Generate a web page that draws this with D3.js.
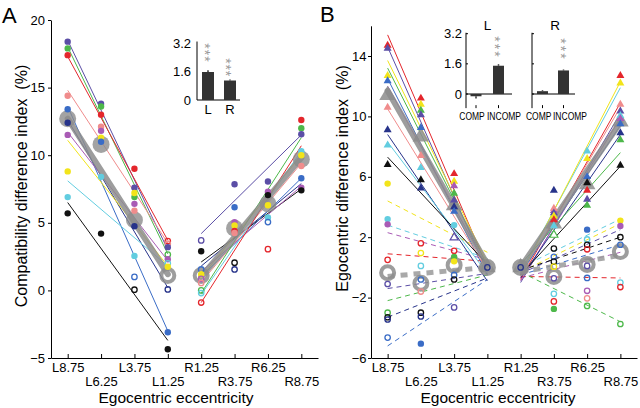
<!DOCTYPE html>
<html><head><meta charset="utf-8">
<script src="https://cdn.jsdelivr.net/npm/d3@7"></script>
<style>
body{margin:0;background:#fff}
svg{display:block}
text{font-family:"Liberation Sans",Arial,sans-serif;fill:#000}
</style>
</head><body>
<svg id="c" width="640" height="408"></svg>
<script>
// ---------- DATA ----------
const categories = ["L8.75","L6.25","L3.75","L1.25","R1.25","R3.75","R6.25","R8.75"];
// subjects: 0 red,1 green,2 purple,3 navy,4 blue,5 cyan,6 yellow,7 pink,8 magenta,9 black
const subjectColors = ["#e4262c","#4db84a","#5b4ea6","#27338a","#3a6cc6","#62cde0","#f2e41a","#f08c8c","#a95bb5","#111111"];

const yTicksA = [20,15,10,5,0,-5];
const yTicksB = [14,10,6,2,-2,-6];

// [subject, position, value, filled]
const aPoints = [
 [2,0,18.4,1],[1,0,17.9,1],[0,0,17.4,1],[7,0,14.4,1],[4,0,13.4,1],[3,0,12.4,1],[8,0,11.5,1],[6,0,8.8,1],[5,0,6.9,1],[9,0,5.7,1],
 [2,1,13.8,1],[1,1,13.6,1],[0,1,13.0,1],[7,1,12.1,1],[8,1,11.8,1],[6,1,11.3,1],[4,1,11.0,1],[5,1,8.4,1],[9,1,4.2,1],
 [0,2,9.0,1],[2,2,7.6,1],[1,2,6.9,1],[6,2,7.2,1],[8,2,6.4,1],[7,2,5.9,1],[3,2,4.75,1],[5,2,2.55,1],[4,2,1.0,0],[9,2,0.05,0],
 [0,3,3.65,0],[7,3,3.45,0],[2,3,3.2,1],[1,3,2.65,0],[8,3,2.3,1],[5,3,2.0,0],[6,3,1.75,1],[3,3,0.07,0],[4,3,-3.1,1],[9,3,-4.35,1],
 [2,4,3.7,0],[9,4,2.9,1],[4,4,1.55,0],[6,4,1.2,1],[8,4,0.85,0],[7,4,0.55,0],[1,4,0.0,0],[5,4,-0.2,0],[0,4,-0.9,0],
 [2,5,7.85,1],[4,5,6.15,1],[8,5,5.05,1],[6,5,4.8,1],[0,5,4.4,1],[7,5,4.25,1],[9,5,2.05,0],[3,5,1.55,0],
 [2,6,8.05,1],[8,6,7.3,1],[9,6,7.05,1],[6,6,6.3,1],[5,6,5.4,1],[4,6,5.05,0],[0,6,3.05,0],
 [0,7,12.6,1],[1,7,12.0,1],[2,7,11.55,1],[5,7,10.3,1],[6,7,10.0,1],[7,7,9.2,1],[4,7,8.3,1],[8,7,7.6,1],[9,7,7.4,1]
];
// [subject, startPos, startVal, endPos, endVal]
const aLines = [
 [2,0,18.5,3,3.0],[1,0,18.0,3,2.7],[0,0,17.3,3,3.7],[7,0,14.8,3,3.5],[4,0,13.6,3,-3.0],[3,0,12.6,3,0.2],
 [8,0,11.7,3,2.2],[6,0,11.1,3,1.8],[5,0,8.1,3,1.8],[9,0,6.5,3,-3.7],
 [2,4,4.2,7,11.5],[9,4,2.1,7,7.5],[3,4,1.8,7,7.9],[4,4,1.0,7,8.3],[6,4,1.0,7,10.0],[7,4,0.6,7,9.4],
 [8,4,1.4,7,7.7],[1,4,-0.2,7,11.3],[5,4,-0.3,7,10.3],[0,4,-0.9,7,10.7]
];
const aMeans = [12.7,10.8,5.2,1.1,1.1,4.6,6.4,9.7];
const aMeanFilled = [1,1,1,0,0,1,1,1];
const aMeanLines = [[0,12.7,3,1.2],[4,1.0,7,9.8]];

const bTriPoints = [
 [0,0,14.7,1],[2,0,14.5,1],[6,0,12.7,1],[4,0,12.35,1],[7,0,10.6,1],[3,0,9.1,1],[5,0,8.1,1],[9,0,6.8,1],
 [0,1,11.2,1],[6,1,10.8,1],[1,1,10.4,1],[2,1,10.1,1],[4,1,9.25,1],[7,1,7.4,1],[5,1,6.6,1],[9,1,5.8,1],[3,1,5.25,1],
 [0,2,6.2,1],[6,2,5.7,1],[8,2,5.4,1],[1,2,4.9,1],[2,2,4.45,1],[3,2,4.0,1],[4,2,3.7,1],[2,2,1.97,0],
 [3,5,5.1,1],[8,5,3.75,1],[7,5,3.9,1],[2,5,3.6,1],[6,5,3.4,1],[0,5,3.15,1],[5,5,2.75,1],[1,5,2.15,0],
 [5,6,7.7,1],[6,6,7.2,1],[4,6,6.0,1],[9,6,5.6,1],[0,6,5.1,1],[2,6,4.5,1],[1,6,4.1,1],
 [0,7,12.7,1],[6,7,12.2,1],[7,7,10.8,1],[2,7,10.35,1],[5,7,10.05,1],[8,7,9.85,1],[4,7,9.5,1],[3,7,8.9,1],[1,7,8.45,1],[9,7,6.75,1]
];
const bCirPoints = [
 [6,0,5.55,1],[5,0,3.2,1],[8,0,2.85,1],[0,0,0.5,0],[2,0,-1.1,0],[1,0,-3.0,0],[9,0,-3.3,0],[3,0,-3.45,0],[4,0,-4.65,0],
 [0,1,1.6,0],[6,1,0.95,0],[5,1,0.1,0],[4,1,-0.8,0],[7,1,-1.6,0],[9,1,-3.0,0],[3,1,-3.25,0],[4,1,-5.05,1],
 [5,2,2.8,1],[0,2,1.1,0],[1,2,0.7,1],[6,2,0.4,1],[4,2,-0.5,0],[9,2,-0.8,0],[2,2,-2.65,0],
 [3,3,0,0],[3,4,0,0],
 [9,5,1.25,0],[4,5,0.7,0],[9,5,0.38,0],[6,5,0.05,0],[2,5,-0.72,0],[5,5,-1.75,0],[0,5,-2.25,0],[1,5,-2.75,1],
 [4,6,2.5,1],[5,6,1.85,0],[9,6,1.5,0],[0,6,1.2,0],[2,6,0.1,0],[4,6,-0.7,0],[8,6,-1.55,0],[7,6,-2.05,0],[1,6,-2.55,0],
 [6,7,3.1,1],[8,7,2.75,1],[9,7,2.0,0],[4,7,1.5,0],[5,7,-1.0,0],[0,7,-1.3,0],[1,7,-3.75,0]
];
const bTriLines = [
 [0,0,15.4,3,0.0],[2,0,14.6,3,-0.3],[6,0,13.7,3,0.3],[1,0,13.2,3,0.1],[4,0,12.5,3,-0.5],[8,0,12.0,3,0.0],
 [7,0,10.5,3,-0.2],[3,0,8.8,3,-0.9],[5,0,8.3,3,-0.4],[9,0,7.3,3,0.2],
 [5,4,-0.3,7,11.9],[6,4,-0.5,7,12.3],[0,4,-0.8,7,10.9],[7,4,-0.6,7,10.6],[2,4,-1.0,7,10.2],[8,4,-0.9,7,9.9],
 [4,4,-0.4,7,9.4],[3,4,-0.7,7,8.8],[1,4,0.2,7,7.6],[9,4,-0.5,7,6.7]
];
const bCirLines = [
 [6,0,4.4,3,1.0],[5,0,2.8,3,0.6],[8,0,2.3,3,0.5],[0,0,0.9,3,0.4],[2,0,-1.4,3,-0.4],[1,0,-2.2,3,-0.5],[3,0,-3.3,3,-0.7],[4,0,-5.2,3,-0.8],
 [5,4,0.0,7,3.2],[6,4,-0.3,7,2.9],[2,4,-0.4,7,2.5],[9,4,-0.2,7,2.0],[4,4,-0.5,7,1.5],[8,4,-0.7,7,1.0],[0,4,-0.6,7,-0.7],[1,4,-0.3,7,-3.6]
];
const bTriMeans = [11.4,8.65,4.1,0,0,2.9,5.5,9.65];
const bCirMeans = [-0.35,-1.05,0.15,0,0,-0.6,0.2,1.05];
const bTriMeanLines = [[0,11.7,3,0.2],[4,0.0,7,9.6]];
const bCirMeanLines = [[0,-0.6,3,0.0],[4,-0.3,7,0.8]];

const insetACats = ["L","R"];
const insetAValues = [1.58,1.1];
const insetAErr = [0.1,0.05];
const insetTicks = [0,1.6,3.2];
const insetBCats = ["COMP","INCOMP"];
const insetBLValues = [-0.12,1.5];
const insetBLErr = [0.12,0.08];
const insetBRValues = [0.15,1.25];
const insetBRErr = [0.05,0.05];

// ---------- DRAW ----------
const svg = d3.select("#c");
const GRAY = "#8c8c8c";

function panel(cfg){
  const g = svg.append("g");
  const x = d3.scaleLinear().domain([-0.5,7.5]).range(cfg.xr);
  const y = d3.scaleLinear().domain(cfg.yd).range([358,cfg.ytop]);
  const ya = d3.axisLeft(y).tickValues(cfg.yt).tickSize(3).tickSizeOuter(0).tickPadding(cfg.pad);
  const yg = g.append("g").attr("transform",`translate(${cfg.xr[0]},0)`).call(ya);
  yg.selectAll("text").style("font-size","13px").style("font-family","Liberation Sans, Arial");
  const xa = d3.axisBottom(x).tickValues(d3.range(8)).tickSize(-4).tickSizeOuter(0).tickFormat(i=>categories[i]);
  const xg = g.append("g").attr("transform","translate(0,358)").call(xa);
  xg.selectAll("text").attr("dy",null).attr("y",(d,i)=> i%2===0?14:27.6)
    .style("font-size","13px").style("font-family","Liberation Sans, Arial");
  g.selectAll(".domain,.tick line").attr("stroke","#000").attr("stroke-width",1);
  return {g,x,y};
}

function drawLines(p, lines, dashed){
  p.g.append("g").selectAll("line").data(lines).join("line")
    .attr("x1",d=>p.x(d[1])).attr("y1",d=>p.y(d[2]))
    .attr("x2",d=>p.x(d[3])).attr("y2",d=>p.y(d[4]))
    .attr("stroke",d=>subjectColors[d[0]]).attr("stroke-width",1)
    .attr("stroke-dasharray",dashed?"5,4":null);
}
function drawMeanLines(p, lines, dashed){
  p.g.append("g").selectAll("line").data(lines).join("line")
    .attr("x1",d=>p.x(d[0])).attr("y1",d=>p.y(d[1]))
    .attr("x2",d=>p.x(d[2])).attr("y2",d=>p.y(d[3]))
    .attr("stroke",dashed?"#9a9a9a":GRAY).attr("stroke-width",dashed?5:6)
    .attr("stroke-opacity",0.85)
    .attr("stroke-dasharray",dashed?"7,6":null)
    .attr("stroke-linecap",dashed?"butt":"round");
}
function drawCircles(p, pts){
  p.g.append("g").selectAll("circle").data(pts).join("circle")
    .attr("cx",d=>p.x(d[1])).attr("cy",d=>p.y(d[2]))
    .attr("r",d=>d[3]?3.2:2.7)
    .attr("fill",d=>d[3]?subjectColors[d[0]]:"none")
    .attr("stroke",d=>subjectColors[d[0]]).attr("stroke-width",d=>d[3]?0:1.3);
}
const tri = d3.symbol(d3.symbolTriangle);
function drawTris(p, pts){
  p.g.append("g").selectAll("path").data(pts).join("path")
    .attr("d",tri.size(28)())
    .attr("transform",d=>`translate(${p.x(d[1])},${p.y(d[2])})`)
    .attr("fill",d=>d[3]?subjectColors[d[0]]:"#fff")
    .attr("stroke",d=>subjectColors[d[0]]).attr("stroke-width",d=>d[3]?0:1.2);
}

// Panel A
const pA = panel({xr:[51,318], yd:[-5,20], ytop:20, yt:yTicksA, pad:3});
drawLines(pA, aLines, false);
drawMeanLines(pA, aMeanLines, false);
pA.g.append("g").selectAll("circle").data(aMeans).join("circle")
  .attr("cx",(d,i)=>pA.x(i)).attr("cy",d=>pA.y(d))
  .attr("r",(d,i)=>aMeanFilled[i]?8.5:6.5)
  .attr("fill",(d,i)=>aMeanFilled[i]?GRAY:"none")
  .attr("fill-opacity",0.8)
  .attr("stroke",GRAY).attr("stroke-opacity",0.85)
  .attr("stroke-width",(d,i)=>aMeanFilled[i]?0:4);
drawCircles(pA, aPoints);

// Panel B
const pB = panel({xr:[371,637], yd:[-6,16], ytop:358-22*15.1, yt:yTicksB, pad:1.5});
drawLines(pB, bCirLines, true);
drawLines(pB, bTriLines, false);
drawMeanLines(pB, bCirMeanLines, true);
drawMeanLines(pB, bTriMeanLines, false);
pB.g.append("g").selectAll("path").data(bTriMeans).join("path")
  .attr("d",tri.size(120)())
  .attr("transform",(d,i)=>`translate(${pB.x(i)},${pB.y(d)})`)
  .attr("fill",GRAY).attr("fill-opacity",0.85);
pB.g.append("g").selectAll("circle").data(bCirMeans).join("circle")
  .attr("cx",(d,i)=>pB.x(i)).attr("cy",d=>pB.y(d)).attr("r",6.5)
  .attr("fill","none").attr("stroke",GRAY).attr("stroke-opacity",0.85).attr("stroke-width",4);
drawCircles(pB, bCirPoints);
drawTris(pB, bTriPoints);

// Titles
svg.append("text").attr("x",2).attr("y",23).style("font-size","22px").text("A");
svg.append("text").attr("x",320).attr("y",22).style("font-size","22px").text("B");
svg.append("text").attr("x",176).attr("y",402.5).attr("text-anchor","middle").style("font-size","15.5px").text("Egocentric eccentricity");
svg.append("text").attr("x",498).attr("y",402.5).attr("text-anchor","middle").style("font-size","15.5px").text("Egocentric eccentricity");
svg.append("text").attr("transform","translate(26.5,186) rotate(-90)").attr("text-anchor","middle")
  .style("font-size","16px").style("white-space","pre").text("Compatibility difference index  (%)");
svg.append("text").attr("transform","translate(348,178.5) rotate(-90)").attr("text-anchor","middle")
  .style("font-size","16px").style("white-space","pre").text("Egocentric difference index  (%)");

// ---------- INSETS ----------
// a vertical stack of three asterisks, written as one rotated text
function stars(cx, topY, step){
  const fs = 14, adv = 0.389*fs;
  svg.append("text")
    .attr("transform",`translate(${cx-0.59*fs},${topY-adv/2}) rotate(90)`)
    .style("font-size",fs+"px").style("letter-spacing",(step-adv)+"px")
    .style("fill","#9a9a9a").text("***");
}
// Inset A
{
  const y = d3.scaleLinear().domain([0,3.2]).range([100,43.3]);
  const x = d3.scalePoint().domain(insetACats).range([208,230]);
  const g = svg.append("g");
  g.append("line").attr("x1",197).attr("x2",197).attr("y1",y(3.3)).attr("y2",y(0)).attr("stroke","#000");
  g.append("line").attr("x1",197).attr("x2",240).attr("y1",y(0)).attr("y2",y(0)).attr("stroke","#000");
  g.selectAll(".tl").data(insetTicks).join("text").attr("class","tl")
    .attr("x",191).attr("y",d=>y(d)+4.6).attr("text-anchor","end").style("font-size","13px").text(d=>d);
  g.selectAll("rect").data(insetAValues).join("rect")
    .attr("x",(d,i)=>x(insetACats[i])-6).attr("width",12)
    .attr("y",d=>y(d)).attr("height",d=>y(0)-y(d)).attr("fill","#333");
  g.selectAll(".eb").data(insetAValues).join("line").attr("class","eb")
    .attr("x1",(d,i)=>x(insetACats[i])).attr("x2",(d,i)=>x(insetACats[i]))
    .attr("y1",d=>y(d)).attr("y2",(d,i)=>y(d+insetAErr[i])).attr("stroke","#333").attr("stroke-width",1.5);
  g.selectAll(".lab").data(insetACats).join("text").attr("class","lab")
    .attr("x",d=>x(d)).attr("y",114).attr("text-anchor","middle").style("font-size","13px").text(d=>d);
  stars(208,46,6.5);
  stars(229.5,61,6.2);
}
// Insets B
function insetB(ax, xEnd, vals, errs, barX, labX, title, titleX, showLabels, starX, starTop){
  const y = d3.scaleLinear().domain([0,3.2]).range([94,33.7]);
  const x = d3.scaleOrdinal().domain(insetBCats).range(barX);
  const g = svg.append("g");
  g.append("line").attr("x1",ax).attr("x2",ax).attr("y1",y(3.25)).attr("y2",y(-0.75)).attr("stroke","#000");
  g.append("line").attr("x1",ax).attr("x2",xEnd).attr("y1",y(0)).attr("y2",y(0)).attr("stroke","#000");
  g.selectAll(".it").data(insetTicks).join("line").attr("class","it")
    .attr("x1",ax).attr("x2",ax+2).attr("y1",d=>y(d)).attr("y2",d=>y(d)).attr("stroke","#000");
  g.selectAll(".bt").data(insetBCats).join("line").attr("class","bt")
    .attr("x1",d=>x(d)).attr("x2",d=>x(d)).attr("y1",y(-0.75)).attr("y2",y(-0.75)-3).attr("stroke","#000");
  if(showLabels){
    g.selectAll(".tl").data(insetTicks).join("text").attr("class","tl")
      .attr("x",462).attr("y",d=>y(d)+4.6).attr("text-anchor","end").style("font-size","13px").text(d=>d);
  }
  g.selectAll("rect").data(vals).join("rect")
    .attr("x",(d,i)=>x(insetBCats[i])-5.5).attr("width",11)
    .attr("y",d=>y(Math.max(d,0))).attr("height",d=>Math.abs(y(0)-y(d))).attr("fill","#333");
  g.selectAll(".eb").data(vals).join("line").attr("class","eb")
    .attr("x1",(d,i)=>x(insetBCats[i])).attr("x2",(d,i)=>x(insetBCats[i]))
    .attr("y1",d=>y(d)).attr("y2",(d,i)=>y(d+(d<0?-errs[i]:errs[i]))).attr("stroke","#333").attr("stroke-width",1.5);
  // condensed category labels (horizontally scaled text)
  g.selectAll(".lab").data(insetBCats).join("text").attr("class","lab")
    .attr("transform",(d,i)=>`translate(${labX[i]},120) scale(0.74,1)`)
    .attr("text-anchor","middle")
    .style("font-size","11.5px").text(d=>d);
  g.append("text").attr("x",titleX).attr("y",29.5).attr("text-anchor","middle").style("font-size","13.5px").text(title);
  stars(starX, starTop, 7.5);
}
insetB(466, 512, insetBLValues, insetBLErr, [476,498.5], [472,504], "L", 487.5, true, 498.5, 39);
insetB(532, 575, insetBRValues, insetBRErr, [542.5,563.5], [538.7,570], "R", 555, false, 564, 41);
</script>
</body></html>
